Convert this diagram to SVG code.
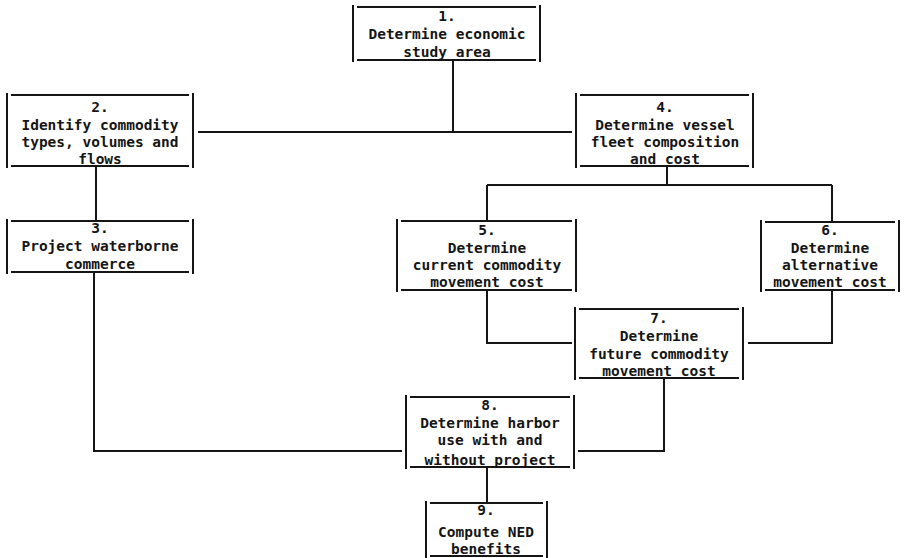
<svg xmlns="http://www.w3.org/2000/svg" width="905" height="558" viewBox="0 0 905 558">
<defs>
<style>
.bg{fill:#ffffff}
.ln{stroke:#151515;stroke-width:2;fill:none;stroke-linecap:butt}
.tx{font-family:"DejaVu Sans Mono","Liberation Mono",monospace;font-weight:bold;font-size:14.5px;fill:#151515;text-anchor:middle}
</style>
</defs>
<rect class="bg" x="0" y="0" width="905" height="558"/>
<g id="connectors">
<path class="ln" d="M453 60V132M198 132H572"/>
<path class="ln" d="M96 166V221"/>
<path class="ln" d="M94 272V451H402"/>
<path class="ln" d="M667 166V185M487 185H832M487 185V221M832 185V222"/>
<path class="ln" d="M487 290V343H572"/>
<path class="ln" d="M832 290V343H748"/>
<path class="ln" d="M664 378V451H578"/>
<path class="ln" d="M487 467V503"/>
</g>
<g id="n1">
<path class="ln" d="M353 5V62M540 5V62M357 7H536M357 60H536"/>
<text class="tx" x="447" y="21">1.</text>
<text class="tx" x="447" y="39">Determine economic</text>
<text class="tx" x="447" y="57">study area</text>
</g>
<g id="n2">
<path class="ln" d="M7 93V168M193 93V168M11 95H189M11 166H189"/>
<text class="tx" x="100" y="112">2.</text>
<text class="tx" x="100" y="130">Identify commodity</text>
<text class="tx" x="100" y="147">types, volumes and</text>
<text class="tx" x="100" y="164">flows</text>
</g>
<g id="n3">
<path class="ln" d="M7 219V274M193 219V274M11 221H189M11 272H189"/>
<text class="tx" x="100" y="233">3.</text>
<text class="tx" x="100" y="251">Project waterborne</text>
<text class="tx" x="100" y="269">commerce</text>
</g>
<g id="n4">
<path class="ln" d="M576 93V168M753 93V168M580 95H749M580 166H749"/>
<text class="tx" x="665" y="112">4.</text>
<text class="tx" x="665" y="130">Determine vessel</text>
<text class="tx" x="665" y="147">fleet composition</text>
<text class="tx" x="665" y="164">and cost</text>
</g>
<g id="n5">
<path class="ln" d="M397 219V292M576 219V292M401 221H572M401 290H572"/>
<text class="tx" x="487" y="235">5.</text>
<text class="tx" x="487" y="253">Determine</text>
<text class="tx" x="487" y="270">current commodity</text>
<text class="tx" x="487" y="287">movement cost</text>
</g>
<g id="n6">
<path class="ln" d="M761 220V292M899 220V292M765 222H895M765 290H895"/>
<text class="tx" x="830" y="235">6.</text>
<text class="tx" x="830" y="253">Determine</text>
<text class="tx" x="830" y="270">alternative</text>
<text class="tx" x="830" y="287">movement cost</text>
</g>
<g id="n7">
<path class="ln" d="M575 307V380M743 307V380M579 309H739M579 378H739"/>
<text class="tx" x="659" y="323">7.</text>
<text class="tx" x="659" y="341">Determine</text>
<text class="tx" x="659" y="359">future commodity</text>
<text class="tx" x="659" y="376">movement cost</text>
</g>
<g id="n8">
<path class="ln" d="M406 395V469M574 395V469M410 397H570M410 467H570"/>
<text class="tx" x="490" y="410">8.</text>
<text class="tx" x="490" y="428">Determine harbor</text>
<text class="tx" x="490" y="445">use with and</text>
<text class="tx" x="490" y="465">without project</text>
</g>
<g id="n9">
<path class="ln" d="M426 501V558M547 501V558M430 503H543M430 556H543"/>
<text class="tx" x="486" y="515">9.</text>
<text class="tx" x="486" y="537">Compute NED</text>
<text class="tx" x="486" y="554">benefits</text>
</g>
</svg>
